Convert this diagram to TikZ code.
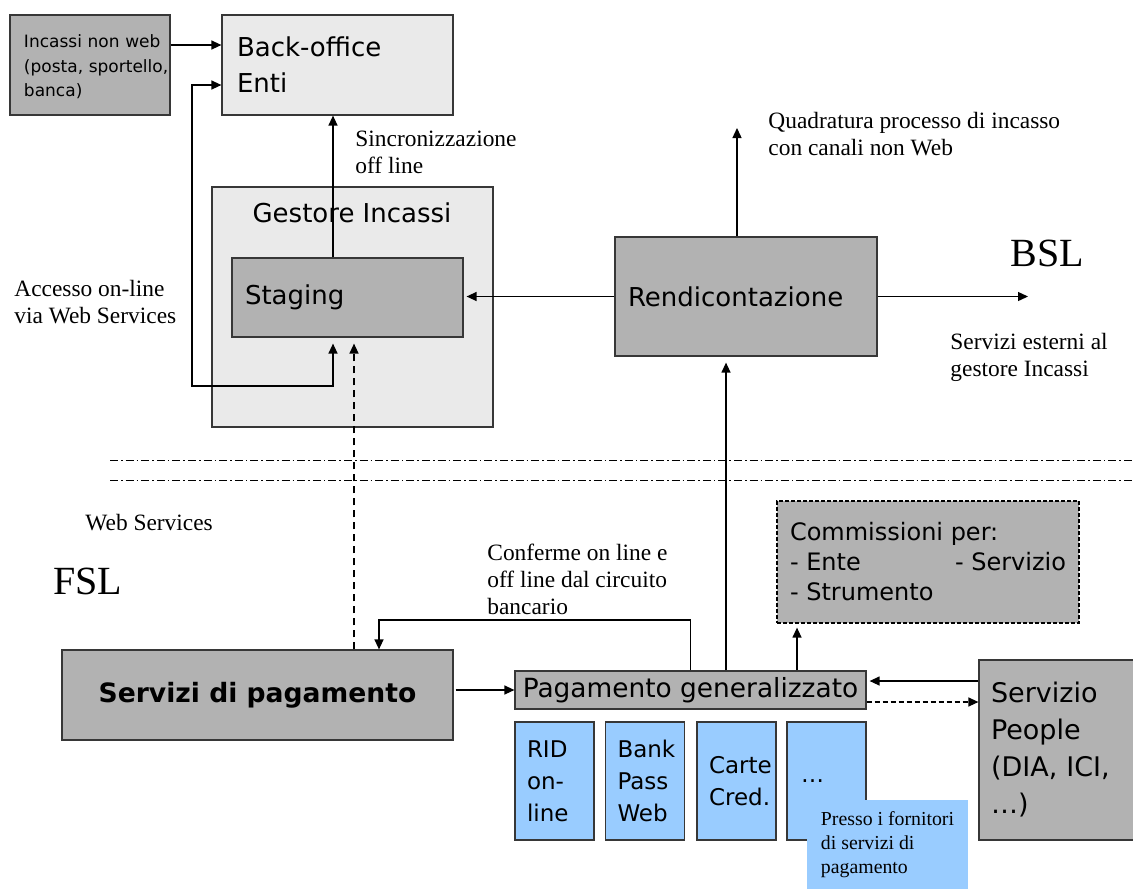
\documentclass[tikz,border=0pt]{standalone}
\usepackage{fontspec}
\setmainfont{Liberation Serif}
\newfontfamily\boxfont{DejaVu Sans}
\usepackage{tikz}
\usetikzlibrary{positioning, arrows.meta, calc}
\definecolor{boxgray}{RGB}{178, 178, 178}
\definecolor{panelgray}{RGB}{234, 234, 234}
\definecolor{payblue}{RGB}{153, 204, 255}
\definecolor{edgegray}{RGB}{55, 55, 55}

\begin{document}
\begin{tikzpicture}[x=0.5pt, y=-0.5pt,
    block/.style={draw=edgegray, line width=0.6pt, inner sep=0pt,
                  font=\boxfont\fontsize{13}{18}\selectfont},
    leftbox/.style={block, align=left},
    paybox/.style={leftbox, fill=payblue, minimum width=39.5pt, minimum height=59pt,
                   text width=27.5pt, inner xsep=6pt, font=\boxfont\fontsize{11.5}{16}\selectfont},
    note/.style={anchor=north west, inner sep=0pt, align=left,
                 font=\fontsize{11.7}{13.5}\selectfont},
    bignote/.style={note, font=\fontsize{20}{24}\selectfont},
    arr/.style={-{Triangle[length=5pt, width=4.5pt]}, line width=0.65pt},
    twoarr/.style={{Triangle[length=5pt, width=4.5pt]}-{Triangle[length=5pt, width=4.5pt]}, line width=0.65pt},
    sep/.style={line width=0.5pt, dash pattern=on 4pt off 1.5pt on 0.8pt off 1.5pt}]

  \useasboundingbox (0,0) rectangle (1133,889);

  % upper part: back office and gestore incassi
  \node[leftbox, fill=boxgray, minimum width=80pt, minimum height=50pt, text width=66pt,
        inner xsep=7pt, font=\boxfont\fontsize{8.5}{12.3}\selectfont] (nonweb) at (90,65)
        {\rule{0pt}{8.5pt}\mbox{Incassi non web}\\\mbox{(posta, sportello,}\\banca)};
  \node[leftbox, fill=panelgray, minimum width=115.5pt, minimum height=50pt, text width=100.5pt,
        inner xsep=7.5pt] (backoffice) at (337.5,65) {Back-office\\Enti};
  \node[block, fill=panelgray, minimum width=140.5pt, minimum height=120pt] (gestore) at (352.5,307) {};
  \node[font=\boxfont\fontsize{13}{18}\selectfont, inner sep=0pt] (gestoretitle) at (352,213) {Gestore Incassi};
  \node[leftbox, fill=boxgray, minimum width=115.5pt, minimum height=39.5pt, text width=102.5pt,
        inner xsep=6.5pt] (staging) at (347.5,297.5) {Staging};
  \node[leftbox, fill=boxgray, minimum width=131pt, minimum height=59.5pt, text width=118pt,
        inner xsep=6.5pt] (rendic) at (746,296.5) {Rendicontazione};

  % lower part: payment services
  \node[leftbox, fill=boxgray, draw=black, dash pattern=on 2pt off 1pt, minimum width=151pt,
        minimum height=61pt, font=\boxfont\fontsize{12}{15}\selectfont] (commiss) at (928,562)
        {Commissioni per:\\\makebox[82.5pt][l]{- Ente}- Servizio\\- Strumento};
  \node[block, fill=boxgray, minimum width=195.5pt, minimum height=45pt,
        font=\boxfont\bfseries\fontsize{13.3}{18}\selectfont] (servizi) at (257.5,695) {Servizi di pagamento};
  \node[block, fill=boxgray, minimum width=175.5pt, minimum height=19pt,
        font=\boxfont\fontsize{13.2}{18}\selectfont] (pagamento) at (690.5,690) {Pagamento generalizzato};
  \node[paybox] (rid) at (554.5,781) {RID\\on-\\line};
  \node[paybox] (bankpass) at (645,781) {Bank\\Pass\\Web};
  \node[paybox] (carte) at (736.5,781) {Carte\\Cred.};
  \node[paybox] (altri) at (826.5,781) {\hspace*{1pt}…};
  \node[fill=payblue, minimum width=80.5pt, minimum height=44.5pt, inner sep=0pt, align=left,
        font=\fontsize{9.9}{12}\selectfont] (presso) at (887.5,844.5)
        {Presso i fornitori\\di servizi di\\pagamento};
  \node[leftbox, fill=boxgray, minimum width=81pt, minimum height=90pt, text width=69pt,
        inner xsep=6pt, font=\boxfont\fontsize{13.5}{18.5}\selectfont] (people) at (1060,750)
        {Servizio\\People\\(DIA, ICI,\\…)};

  % free labels
  \node[note] (synclabel) at (355,131) {Sincronizzazione\\off line};
  \node[note] (quadlabel) at (768,112) {Quadratura processo di incasso\\con canali non Web};
  \node[bignote] (bsl) at (1010,240) {BSL};
  \node[note] (esternilabel) at (950,333) {Servizi esterni al\\gestore Incassi};
  \node[note] (accessolabel) at (14,280) {Accesso on-line\\via Web Services};
  \node[note] (wslabel) at (85,514) {Web Services};
  \node[bignote] (fsl) at (53,568) {FSL};
  \node[note] (confermelabel) at (487,544) {Conferme on line e\\off line dal circuito\\bancario};

  % separators between BSL and FSL
  \draw[sep] (110,460) -- (1133,460);
  \draw[sep] (110,480) -- (1133,480);

  % connectors
  \coordinate (webcorner) at (192,386);
  \coordinate (quadtip) at (737,128);
  \coordinate (bsltip) at (1028,296.5);
  \coordinate (confturn) at (379,620);
  \draw[arr] ([yshift=10pt]nonweb.east) -- ([yshift=10pt]backoffice.west);
  \draw[twoarr, shorten >=3pt] ([yshift=-10pt]backoffice.west) -| (webcorner) -| ([xshift=-7.25pt]staging.south);
  \draw[arr] ([xshift=-7.25pt]staging.north) -- ([xshift=-7.25pt]staging.north |- backoffice.south);
  \draw[arr, shorten >=1.5pt] (rendic.west) -- (staging.east |- rendic.west);
  \draw[arr] ([xshift=-4.5pt]rendic.north) -- (quadtip);
  \draw[arr] (rendic.east) -- (bsltip);
  \draw[arr, shorten >=3pt] ([xshift=17.75pt]pagamento.north) -- ([xshift=-10pt]rendic.south);
  \draw[arr, shorten >=2pt] ([xshift=53.25pt]pagamento.north) -- ([xshift=-65.5pt]commiss.south);
  \draw[arr] (pagamento.north) |- (confturn) -- ([xshift=60.75pt]servizi.north);
  \draw[arr] ([xshift=1pt]servizi.east |- pagamento.west) -- (pagamento.west);
  \draw[arr, dash pattern=on 3.5pt off 2.5pt, shorten >=3pt] ([xshift=48.25pt]servizi.north) -- ([xshift=3.25pt]staging.south);
  \draw[arr, shorten >=1.5pt] ([yshift=34.5pt]people.west) -- ([yshift=4.5pt]pagamento.east);
  \draw[arr, dash pattern=on 2.5pt off 1.5pt] ([yshift=-6pt]pagamento.east) -- ([yshift=24pt]people.west);
\end{tikzpicture}
\end{document}
